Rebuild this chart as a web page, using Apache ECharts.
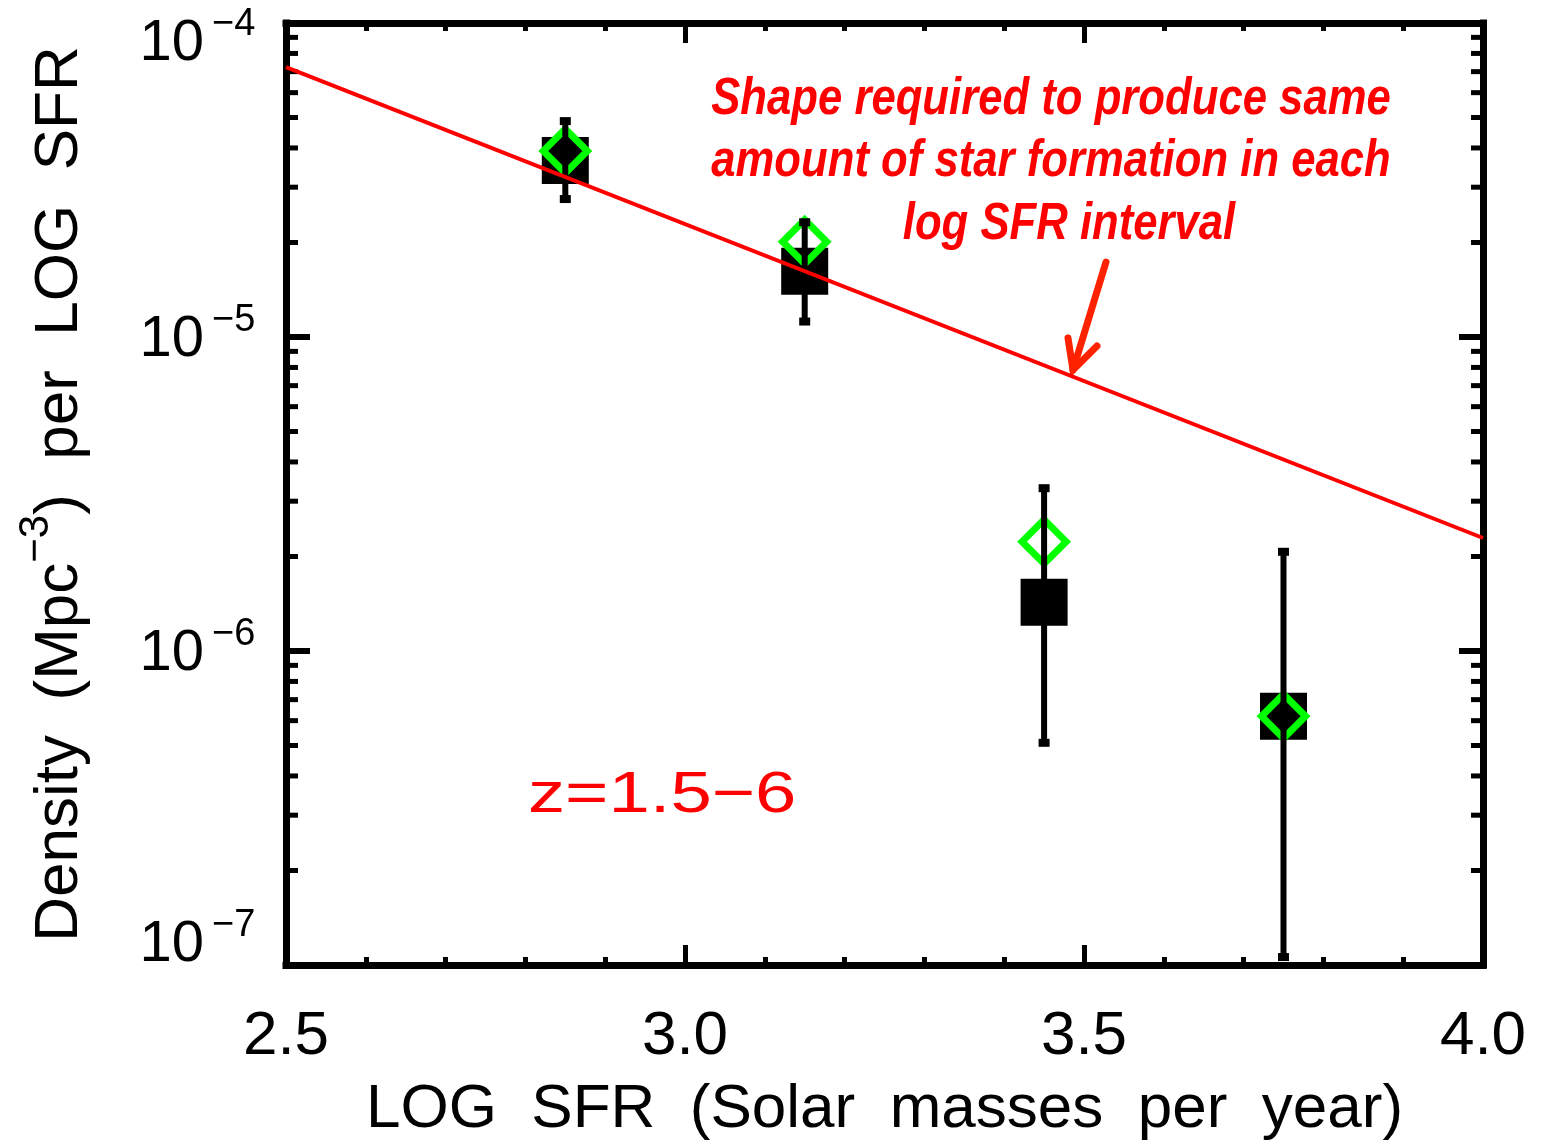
<!DOCTYPE html>
<html>
<head>
<meta charset="utf-8">
<title>Density per LOG SFR</title>
<script src="https://cdn.jsdelivr.net/npm/echarts@6/dist/echarts.min.js"></script>
<style>
  html, body { margin: 0; padding: 0; background: #ffffff; }
  #chart { width: 1544px; height: 1147px; }
</style>
</head>
<body>
<div id="chart"></div>
<script>
// Binned galaxy counts, z = 1.5-6
const logSfr       = [2.85, 3.15, 3.45, 3.75];
const density      = [3.65e-5, 1.62e-5, 1.43e-6, 6.2e-7];   // filled squares
const densityHigh  = [4.87e-5, 2.32e-5, 3.30e-6, 2.07e-6];  // upper error
const densityLow   = [2.75e-5, 1.12e-5, 5.1e-7, 1.06e-7];   // lower error
const densityAlt   = [3.91e-5, 2.01e-5, 2.23e-6, 6.2e-7];   // open diamonds

// Equal star formation per log SFR interval (density ~ SFR^-1)
const equalSfX = [2.5, 4.0];
const equalSfY = [7.24e-5, 2.29e-6];

// Axis ticks
const xTickValues = [2.5, 3.0, 3.5, 4.0];
const yDecades = [-7, -6, -5, -4];

const X_MIN = xTickValues[0], X_MAX = xTickValues[xTickValues.length - 1];
const Y_MIN = Math.pow(10, yDecades[0]), Y_MAX = Math.pow(10, yDecades[yDecades.length - 1]);

// 2..9 x 10^n minor ticks for the log axis
const yMinorTicks = [];
for (let i = 0; i < yDecades.length - 1; i++) {
  for (let k = 2; k <= 9; k++) yMinorTicks.push(k * Math.pow(10, yDecades[i]));
}

const FONT = '"Liberation Sans", Arial, sans-serif';
const BLACK = '#000000';
const RED = '#ff0000';

const chart = echarts.init(document.getElementById('chart'), null, { renderer: 'canvas' });

const axisLineStyle = { color: BLACK, width: 7, cap: 'square' };

function xAxisDef(position, showLabels) {
  return {
    type: 'value', position: position, min: X_MIN, max: X_MAX, interval: 0.5,
    axisLine: { show: true, onZero: false, lineStyle: axisLineStyle },
    axisTick: { show: true, inside: true, length: 20, lineStyle: { color: BLACK, width: 5 } },
    minorTick: { show: true, splitNumber: 5, length: 8, lineStyle: { color: BLACK, width: 5 } },
    splitLine: { show: false }, minorSplitLine: { show: false },
    axisLabel: {
      show: showLabels, margin: 41, color: BLACK, fontFamily: FONT, fontSize: 62,
      showMinLabel: true, showMaxLabel: true,
      formatter: v => v.toFixed(1)
    },
    name: showLabels ? 'LOG  SFR  (Solar  masses  per  year)' : '',
    nameLocation: 'middle', nameGap: 114,
    nameTextStyle: { color: BLACK, fontFamily: FONT, fontSize: 62, lineHeight: 62 }
  };
}

function yAxisDef(position) {
  return {
    type: 'log', logBase: 10, position: position, min: Y_MIN, max: Y_MAX,
    axisLine: { show: true, onZero: false, lineStyle: axisLineStyle },
    axisTick: { show: true, inside: true, length: 24, lineStyle: { color: BLACK, width: 6 } },
    splitLine: { show: false },
    axisLabel: { show: false }
  };
}

const option = {
  animation: false,
  backgroundColor: '#ffffff',
  grid: { left: 286, right: 61, top: 23, bottom: 182, containLabel: false, outerBoundsMode: 'none' },
  xAxis: [xAxisDef('bottom', true), xAxisDef('top', false)],
  yAxis: [yAxisDef('left'), yAxisDef('right')],
  series: [
    {
      // minor log ticks on the left and right frame
      type: 'custom', silent: true, z: 1,
      data: yMinorTicks.map(v => [X_MIN, v]),
      renderItem: (params, api) => {
        const v = api.value(1);
        const l = api.coord([X_MIN, v]);
        const r = api.coord([X_MAX, v]);
        return {
          type: 'group',
          children: [
            { type: 'line', shape: { x1: l[0], y1: l[1], x2: l[0] + 12, y2: l[1] }, style: { stroke: BLACK, lineWidth: 5 } },
            { type: 'line', shape: { x1: r[0], y1: r[1], x2: r[0] - 12, y2: r[1] }, style: { stroke: BLACK, lineWidth: 5 } }
          ]
        };
      }
    },
    {
      name: 'density', type: 'scatter', z: 2, silent: true,
      symbol: 'rect', symbolSize: 47,
      itemStyle: { color: BLACK, opacity: 1 },
      data: logSfr.map((x, i) => [x, density[i]])
    },
    {
      name: 'alternate', type: 'scatter', z: 3, silent: true,
      symbol: 'diamond', symbolSize: 44,
      itemStyle: { color: 'rgba(0,0,0,0)', borderColor: '#00ff00', borderWidth: 7, opacity: 1 },
      data: logSfr.map((x, i) => [x, densityAlt[i]])
    },
    {
      name: 'errors', type: 'custom', z: 4, silent: true,
      data: logSfr.map((x, i) => [x, densityLow[i], densityHigh[i]]),
      encode: { x: 0, y: [1, 2] },
      renderItem: (params, api) => {
        const x = api.value(0);
        const lo = api.coord([x, api.value(1)]);
        const hi = api.coord([x, api.value(2)]);
        return {
          type: 'group',
          children: [
            { type: 'line', shape: { x1: hi[0], y1: hi[1], x2: lo[0], y2: lo[1] }, style: { stroke: BLACK, lineWidth: 6 } },
            { type: 'rect', shape: { x: hi[0] - 5.5, y: hi[1] - 4, width: 11, height: 8 }, style: { fill: BLACK } },
            { type: 'rect', shape: { x: lo[0] - 5.5, y: lo[1] - 4, width: 11, height: 8 }, style: { fill: BLACK } }
          ]
        };
      }
    },
    {
      name: 'equal SF', type: 'line', z: 5, silent: true,
      showSymbol: false, symbol: 'none',
      lineStyle: { color: RED, width: 4 },
      data: equalSfX.map((x, i) => [x, equalSfY[i]])
    }
  ]
};

chart.setOption(option);

// ---- text drawn as graphic elements ----
const measureCtx = document.createElement('canvas').getContext('2d');
function textWidth(text, font) { measureCtx.font = font; return measureCtx.measureText(text).width; }

const graphics = [];

// y tick labels: 10 with a raised exponent
const BASE_FONT = '58px ' + FONT;
const SUP_FONT = '38px ' + FONT;
yDecades.forEach((e, i) => {
  const py = chart.convertToPixel({ yAxisIndex: 0 }, Math.pow(10, e));
  // end labels are pulled inside the frame
  const shift = i === 0 ? -20 : (i === yDecades.length - 1 ? 21 : 3);
  const cy = py + shift;
  graphics.push(
    { type: 'text', x: 204, y: cy, silent: true,
      style: { text: '10', font: BASE_FONT, fill: BLACK, textAlign: 'right', textVerticalAlign: 'middle' } },
    { type: 'text', x: 212, y: cy - 19, silent: true,
      style: { text: '\u2212' + (-e), font: SUP_FONT, fill: BLACK, textAlign: 'left', textVerticalAlign: 'middle' } }
  );
});

// y axis title with a superscript, rotated to read upwards
const TITLE_FONT = '62px ' + FONT;
const TITLE_SUP_FONT = '42px ' + FONT;
const titleParts = [
  { text: 'Density  (Mpc', font: TITLE_FONT, dy: 0 },
  { text: '\u22123', font: TITLE_SUP_FONT, dy: -24 },
  { text: ')  per  LOG  SFR', font: TITLE_FONT, dy: 0 }
];
const titleWidth = titleParts.reduce((s, p) => s + textWidth(p.text, p.font), 0);
let cursor = -titleWidth / 2;
const titleChildren = titleParts.map(p => {
  const el = { type: 'text', x: cursor, y: p.dy, silent: true,
    style: { text: p.text, font: p.font, fill: BLACK, textAlign: 'left', textVerticalAlign: 'middle' } };
  cursor += textWidth(p.text, p.font);
  return el;
});
const gridMidY = (chart.convertToPixel({ yAxisIndex: 0 }, Y_MIN) + chart.convertToPixel({ yAxisIndex: 0 }, Y_MAX)) / 2;
graphics.push({ type: 'group', x: 60, y: gridMidY, rotation: Math.PI / 2, silent: true, children: titleChildren });

// annotation for the reference line (condensed bold oblique)
const NOTE_FONT = 'italic bold 52px ' + FONT;
const NOTE_SQUEEZE = 0.84;
graphics.push(
  { type: 'text', x: 1051, y: 100, scaleX: NOTE_SQUEEZE, silent: true, style: { text: 'Shape required to produce same', fill: RED,
    font: NOTE_FONT, textAlign: 'center', textVerticalAlign: 'middle' } },
  { type: 'text', x: 1051, y: 162, scaleX: NOTE_SQUEEZE, silent: true, style: { text: 'amount of star formation in each', fill: RED,
    font: NOTE_FONT, textAlign: 'center', textVerticalAlign: 'middle' } },
  { type: 'text', x: 1069, y: 225, scaleX: NOTE_SQUEEZE, silent: true, style: { text: 'log SFR interval', fill: RED,
    font: NOTE_FONT, textAlign: 'center', textVerticalAlign: 'middle' } },
  { type: 'polyline', silent: true, shape: { points: [[1106, 262], [1073, 370]] },
    style: { stroke: '#ff2200', lineWidth: 7, lineCap: 'round', fill: null } },
  { type: 'polyline', silent: true, shape: { points: [[1068, 338], [1073, 370], [1097, 346]] },
    style: { stroke: '#ff2200', lineWidth: 7, lineCap: 'round', lineJoin: 'miter', fill: null } },
  { type: 'text', x: 528, y: 796, scaleX: 1.28, silent: true, style: { text: 'z=1.5\u22126', fill: RED,
    font: '58px ' + FONT, textAlign: 'left', textVerticalAlign: 'middle' } }
);

chart.setOption({ graphic: graphics });
</script>
</body>
</html>
